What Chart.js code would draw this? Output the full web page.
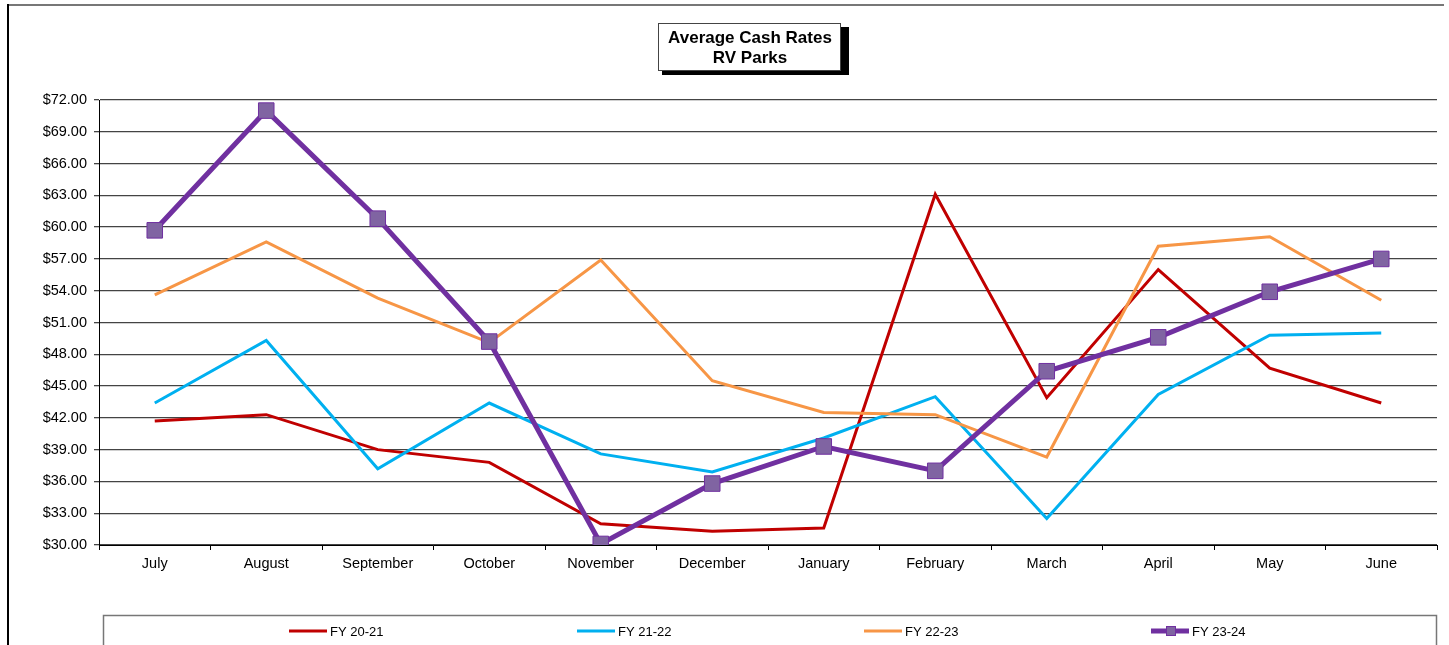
<!DOCTYPE html>
<html>
<head>
<meta charset="utf-8">
<script src="https://cdn.jsdelivr.net/npm/chart.js@4"></script>
<style>
  html, body { margin: 0; padding: 0; background: #fff; }
  #wrap { position: relative; width: 1449px; height: 645px; }
</style>
</head>
<body>
<div id="wrap"><canvas id="rvChart" width="1449" height="645"></canvas></div>
<script>
// データ
const months = ['July', 'August', 'September', 'October', 'November', 'December',
  'January', 'February', 'March', 'April', 'May', 'June'];
const fy2021 = [41.7, 42.3, 39.0, 37.8, 32.0, 31.3, 31.6, 63.1, 43.9, 56.0, 46.7, 43.4];
const fy2122 = [43.4, 49.3, 37.2, 43.4, 38.6, 36.9, 40.1, 44.0, 32.5, 44.2, 49.8, 50.0];
const fy2223 = [53.6, 58.6, 53.3, 49.1, 56.9, 45.5, 42.5, 42.3, 38.3, 58.2, 59.1, 53.1];
const fy2324 = [59.7, 71.0, 60.8, 49.2, 30.1, 35.8, 39.3, 37.0, 46.4, 49.6, 53.9, 57.0];
const seriesNames = ['FY 20-21', 'FY 21-22', 'FY 22-23', 'FY 23-24'];
const titleLines = ['Average Cash Rates', 'RV Parks'];

const FONT = '"Liberation Sans", Arial, sans-serif';

// 枠・タイトル・凡例を描くプラグイン
const decor = {
  id: 'decor',
  beforeDraw(chart) {
    const ctx = chart.ctx;
    ctx.save();
    ctx.fillStyle = '#fff';
    ctx.fillRect(0, 0, chart.width, chart.height);
    // 外枠
    ctx.strokeStyle = '#777';
    ctx.lineWidth = 2;
    ctx.beginPath();
    ctx.moveTo(7, 5); ctx.lineTo(1444, 5);
    ctx.stroke();
    ctx.strokeStyle = '#000';
    ctx.beginPath();
    ctx.moveTo(8, 4); ctx.lineTo(8, 645);
    ctx.stroke();
    ctx.restore();
  },
  afterDraw(chart) {
    const ctx = chart.ctx;
    ctx.save();
    // タイトル（影付きの箱）
    ctx.fillStyle = '#000';
    ctx.fillRect(662, 27, 187, 48);
    ctx.fillStyle = '#fff';
    ctx.fillRect(658, 23, 183, 48);
    ctx.strokeStyle = '#444';
    ctx.lineWidth = 1;
    ctx.strokeRect(658.5, 23.5, 182, 47);
    ctx.fillStyle = '#000';
    ctx.font = 'bold 17px ' + FONT;
    ctx.textAlign = 'center';
    ctx.textBaseline = 'middle';
    ctx.fillText(titleLines[0], 750, 38);
    ctx.fillText(titleLines[1], 750, 58);

    // 凡例
    ctx.strokeStyle = '#777';
    ctx.lineWidth = 1.5;
    ctx.strokeRect(103.5, 615.5, 1333, 40);
    const xs = [289, 577, 864, 1151];
    chart.data.datasets.forEach((ds, i) => {
      const x = xs[i], y = 631;
      ctx.strokeStyle = ds.borderColor;
      ctx.lineWidth = ds.borderWidth;
      ctx.beginPath();
      ctx.moveTo(x, y); ctx.lineTo(x + 38, y);
      ctx.stroke();
      if (ds.pointRadius > 0) {
        ctx.fillStyle = ds.pointBackgroundColor;
        ctx.strokeStyle = ds.pointBorderColor;
        ctx.lineWidth = 1;
        ctx.fillRect(x + 15, y - 5, 10, 10);
        ctx.strokeRect(x + 15.5, y - 4.5, 9, 9);
      }
      ctx.fillStyle = '#000';
      ctx.font = '13px ' + FONT;
      ctx.textAlign = 'left';
      ctx.fillText(ds.label, x + 41, y + 1);
    });
    ctx.restore();
  }
};

function lineSet(label, data, color, width, order) {
  return {
    label: label,
    data: data,
    borderColor: color,
    backgroundColor: color,
    borderWidth: width,
    pointRadius: 0,
    tension: 0,
    fill: false,
    order: order
  };
}

const purple = lineSet(seriesNames[3], fy2324, '#7030A0', 5, 1);
purple.pointRadius = 11;
purple.pointStyle = 'rect';
purple.pointBackgroundColor = '#8064A2';
purple.pointBorderColor = '#7030A0';
purple.pointBorderWidth = 1;

new Chart(document.getElementById('rvChart').getContext('2d'), {
  type: 'line',
  data: {
    labels: months,
    datasets: [
      lineSet(seriesNames[0], fy2021, '#C00000', 3, 4),
      lineSet(seriesNames[1], fy2122, '#00B0F0', 3, 3),
      lineSet(seriesNames[2], fy2223, '#F79646', 3, 2),
      purple
    ]
  },
  options: {
    responsive: false,
    animation: false,
    layout: { padding: { left: 0, top: 100, right: 12, bottom: 0 } },
    plugins: {
      legend: { display: false },
      title: { display: false },
      tooltip: { enabled: false }
    },
    scales: {
      x: {
        offset: true,
        afterFit(scale) { scale.height = 100; },
        grid: {
          offset: true,
          drawOnChartArea: false,
          drawTicks: true,
          tickLength: 5,
          color: '#000'
        },
        border: { color: '#000', width: 1 },
        ticks: {
          color: '#000',
          font: { family: FONT, size: 14.5 },
          padding: 5,
          maxRotation: 0
        }
      },
      y: {
        min: 30,
        max: 72,
        afterFit(scale) { scale.width = 99; },
        grid: {
          color: '#444',
          lineWidth: 1.3,
          tickLength: 5
        },
        border: { color: '#000', width: 1 },
        ticks: {
          stepSize: 3,
          color: '#000',
          font: { family: FONT, size: 14.5 },
          padding: 7,
          callback: v => '$' + v.toFixed(2)
        }
      }
    }
  },
  plugins: [decor]
});
</script>
</body>
</html>
